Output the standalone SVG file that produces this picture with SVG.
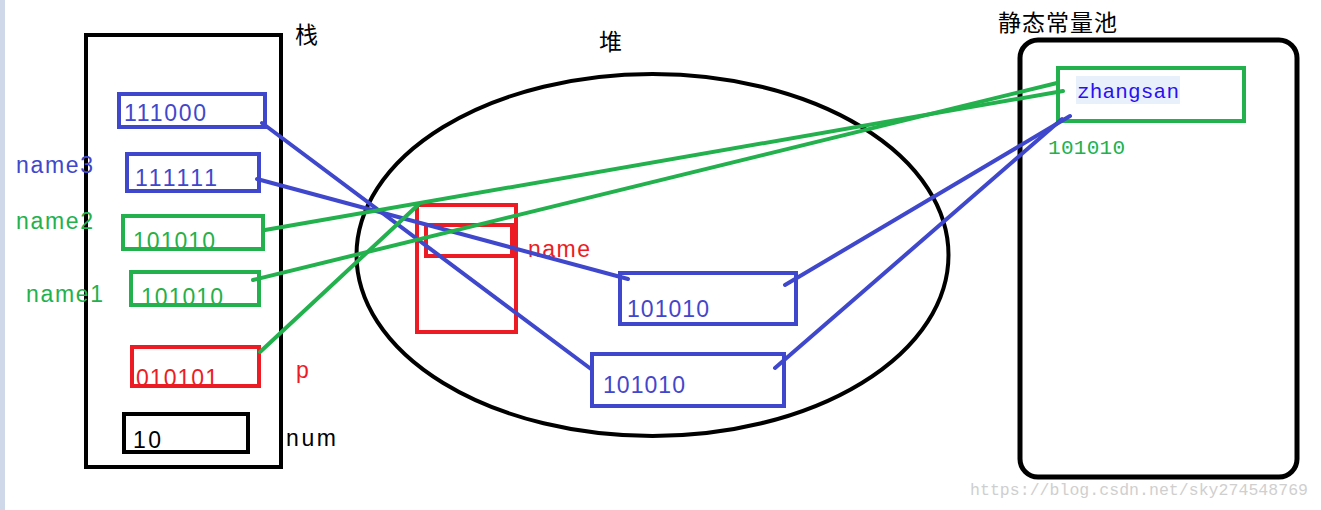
<svg xmlns="http://www.w3.org/2000/svg" width="1321" height="510" viewBox="0 0 1321 510">
<style>
.t{font-family:"Liberation Sans","Noto Sans CJK SC",sans-serif;font-size:23px}
.cjk{font-family:"Noto Sans CJK SC","Liberation Sans",sans-serif;font-size:23px;fill:#000}
.mono{font-family:"Liberation Mono","DejaVu Sans Mono",monospace;font-size:21px}
.blue{fill:#3f48cc}.green{fill:#22b14c}.red{fill:#ed1c24}.black{fill:#000}
.bb{fill:none;stroke:#3f48cc;stroke-width:4}
.gb{fill:none;stroke:#22b14c;stroke-width:4}
.rb{fill:none;stroke:#ed1c24;stroke-width:4}
.kb{fill:none;stroke:#000;stroke-width:4}
.cb{stroke-width:4;stroke-linecap:round;fill:none}
</style>
<rect x="0" y="0" width="1321" height="510" fill="#fff"/>
<rect x="0" y="0" width="5" height="510" fill="#cfd8e8"/>

<g id="stack">
<rect class="kb" x="86" y="35" width="195" height="432"/>
<text class="cjk" x="295" y="43">栈</text>
</g>
<g id="s111000">
<text class="t blue" x="124" y="121" textLength="82">111000</text>
<rect class="bb" x="119" y="94" width="146" height="33"/>
</g>
<g id="s111111">
<text class="t blue" x="135" y="186" textLength="82">111111</text>
<rect class="bb" x="127" y="154" width="132" height="37"/>
<text class="t blue" x="16" y="173" font-size="22" textLength="77">name3</text>
</g>
<g id="name2">
<text class="t green" x="133" y="249" textLength="82">101010</text>
<rect class="gb" x="123" y="216" width="140" height="33"/>
<text class="t green" x="16" y="229" font-size="22" textLength="77">name2</text>
</g>
<g id="name1">
<text class="t green" x="141" y="305" textLength="82">101010</text>
<rect class="gb" x="131" y="272" width="128" height="33"/>
<text class="t green" x="26" y="302" font-size="22" textLength="77">name1</text>
</g>
<g id="p">
<text class="t red" x="136" y="386" textLength="82">010101</text>
<rect class="rb" x="132" y="347" width="127" height="39"/>
<text class="t red" x="296" y="378" font-size="22">p</text>
</g>
<g id="num">
<text class="t black" x="133" y="448" textLength="28">10</text>
<rect class="kb" x="124" y="414" width="124" height="38"/>
<text class="t black" x="286" y="446" font-size="22" textLength="50">num</text>
</g>

<g id="heap">
<ellipse cx="652.5" cy="255" rx="296" ry="181" fill="none" stroke="#000" stroke-width="4"/>
<text class="cjk" x="599" y="50">堆</text>
</g>
<g id="heapObject">
<rect class="rb" x="417" y="205" width="99" height="127"/>
<rect class="rb" x="426" y="225" width="86" height="31"/>
<text class="t red" x="528" y="257" textLength="62">name</text>
</g>
<g id="heapStr1">
<rect class="bb" x="620" y="273" width="176" height="51"/>
<text class="t blue" x="627" y="317" textLength="82">101010</text>
</g>
<g id="heapStr2">
<rect class="bb" x="592" y="354" width="192" height="52"/>
<text class="t blue" x="603" y="393" textLength="82">101010</text>
</g>

<g id="pool">
<rect x="1020" y="40" width="277" height="437" rx="18" ry="18" fill="none" stroke="#000" stroke-width="5"/>
<text class="cjk" x="998" y="31" textLength="119">静态常量池</text>
</g>
<g id="zhangsan">
<rect class="gb" x="1058" y="68" width="186" height="53"/>
<rect x="1076" y="76" width="104" height="28" fill="#e8f0fc"/>
<text class="mono" x="1077" y="98" fill="#2a10f0" textLength="102">zhangsan</text>
<text class="mono green" x="1048" y="154" textLength="77">101010</text>
</g>

<g id="connectors">
<line class="cb" stroke="#3f48cc" x1="262" y1="123" x2="591" y2="369"/>
<line class="cb" stroke="#3f48cc" x1="257" y1="179" x2="628" y2="279"/>
<line class="cb" stroke="#3f48cc" x1="785" y1="285" x2="1070" y2="116"/>
<line class="cb" stroke="#3f48cc" x1="775" y1="368" x2="1062" y2="119"/>
<line class="cb" stroke="#22b14c" x1="265" y1="230" x2="1063" y2="91"/>
<line class="cb" stroke="#22b14c" x1="253" y1="280" x2="1057" y2="83"/>
<line class="cb" stroke="#22b14c" x1="260" y1="352" x2="418" y2="205"/>
</g>

<text x="970" y="495" font-family="Liberation Mono, monospace" font-size="16.5" fill="#cfcfcf" textLength="338">https://blog.csdn.net/sky274548769</text>
</svg>
